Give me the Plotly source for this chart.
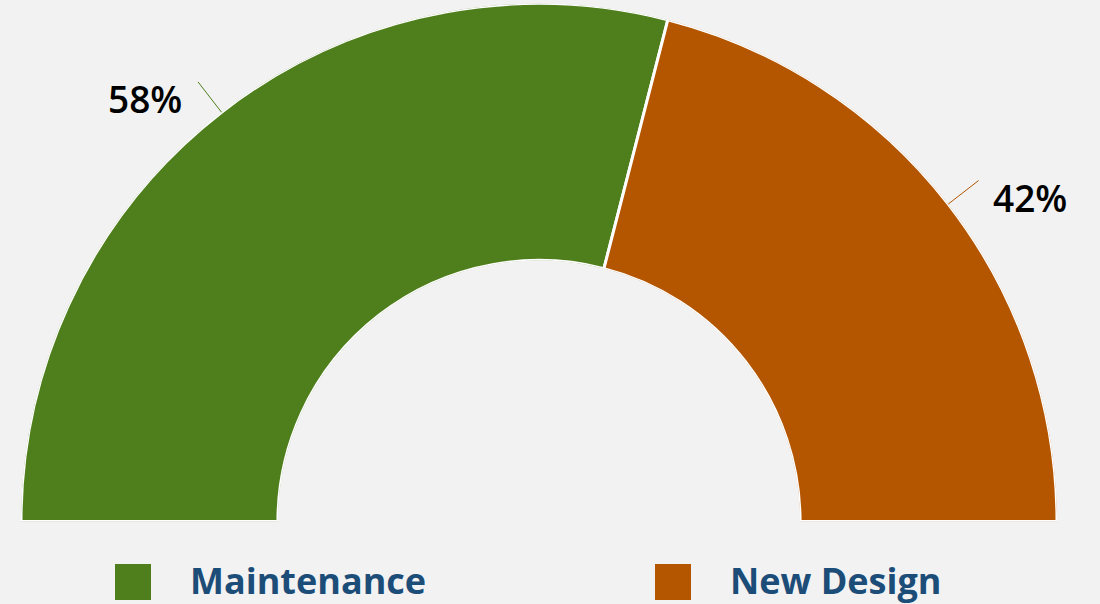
import math
import plotly.graph_objects as go

labels = ["Maintenance", "New Design"]
values = [58, 42]
colors = ["#4e7f1c", "#b45600"]

W, H = 1100, 604
dom_x = [21 / W, 1057 / W]
dom_y = [(H - 521.5) / H, (H - 3.5) / H]

# half donut: share of 180 degrees, starting at the left (180) going clockwise
total = sum(values)
spans = [180 * v / total for v in values]
mids = []
start = 180
for s in spans:
    mids.append(start - s / 2)
    start -= s

fig = go.Figure()
fig.add_trace(go.Barpolar(
    r=[1] * len(values), theta=mids, width=spans, base=0,
    marker=dict(color=colors, line=dict(color="white", width=3)),
    showlegend=False, hoverinfo="skip"))

# polar geometry in paper coords, to place the outside labels
cx = (dom_x[0] + dom_x[1]) / 2 * W
cy = dom_y[0] * H
R = min((dom_x[1] - dom_x[0]) * W / 2, (dom_y[1] - dom_y[0]) * H)


def to_paper(ang, rr):
    a = math.radians(ang)
    return (cx + rr * R * math.cos(a)) / W, (cy + rr * R * math.sin(a)) / H


for lab, v, m, c in zip(labels, values, mids, colors):
    x0, y0 = to_paper(m, 1.0)
    x1, y1 = to_paper(m, 1.074)
    fig.add_shape(type="line", xref="paper", yref="paper",
                  x0=x0, y0=y0, x1=x1, y1=y1, line=dict(color=c, width=1))
    left = m > 90
    fig.add_annotation(x=x1, y=y1, xref="paper", yref="paper",
                       text=f"{v}%", showarrow=False,
                       xanchor="right" if left else "left", yanchor="middle",
                       xshift=-14 if left else 12, yshift=-17,
                       font=dict(family="Open Sans", size=37, weight=600, color="black"))

# legend drawn by hand (big square swatches)
leg_x = [115, 655]
for lab, c, lx in zip(labels, colors, leg_x):
    fig.add_shape(type="rect", xref="paper", yref="paper",
                  x0=lx / W, x1=(lx + 36) / W, y0=(H - 600) / H, y1=(H - 564) / H,
                  fillcolor=c, line=dict(width=0))
    fig.add_annotation(x=(lx + 73) / W, y=(H - 580) / H, xref="paper", yref="paper",
                       text=f"<b>{lab}</b>", showarrow=False,
                       xanchor="left", yanchor="middle",
                       font=dict(family="Open Sans", size=36, color="#1b4d78"))

fig.update_layout(
    width=W, height=H,
    margin=dict(l=0, r=0, t=0, b=0),
    paper_bgcolor="#f2f2f2",
    plot_bgcolor="#f2f2f2",
    showlegend=False,
    polar=dict(
        domain=dict(x=dom_x, y=dom_y),
        sector=[0, 180],
        hole=0.504,
        bgcolor="rgba(0,0,0,0)",
        radialaxis=dict(visible=False, range=[0, 1]),
        angularaxis=dict(visible=False, rotation=0, direction="counterclockwise"),
    ),
)

fig.write_html("out.html", config={"displayModeBar": False},
               post_script="document.body.style.margin='0';")
